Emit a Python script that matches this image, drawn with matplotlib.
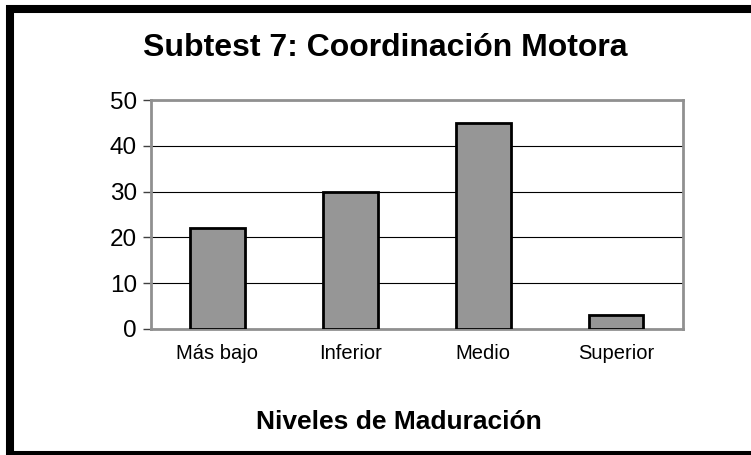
import matplotlib
matplotlib.use("Agg")
import matplotlib.pyplot as plt
from matplotlib.patches import Rectangle

categories = ["Más bajo", "Inferior", "Medio", "Superior"]
values = [22, 30, 45, 3]
yticks = [0, 10, 20, 30, 40, 50]

plt.rcParams['font.family'] = ['Liberation Sans', 'DejaVu Sans']

fig = plt.figure(figsize=(7.51, 4.55), dpi=100)
ax = fig.add_axes([0.201, 0.277, 0.708, 0.503])

x = range(len(categories))
ax.bar(x, values, width=0.41, color="#969696", edgecolor="black", linewidth=2, zorder=3)
ax.set_xlim(-0.5, len(categories) - 0.5)
ax.set_ylim(0, 50)
ax.set_yticks(yticks)
ax.set_yticklabels([str(v) for v in yticks], fontsize=17.5)
ax.set_xticks(list(x))
ax.set_xticklabels(categories, fontsize=14.5)
ax.tick_params(axis='x', length=0, pad=11)
ax.tick_params(axis='y', length=6, color="#404040", width=1.0, pad=4)
ax.grid(axis='y', color='black', linewidth=0.8, zorder=0)
for s in ax.spines.values():
    s.set_color("#909090")
    s.set_linewidth(2)
ax.set_axisbelow(True)

fig.text(0.513, 0.895, "Subtest 7: Coordinación Motora", ha='center', va='center',
         fontsize=23, fontweight='bold')
fig.text(0.531, 0.072, "Niveles de Maduración", ha='center', va='center',
         fontsize=19, fontweight='bold')

fig.patches.append(Rectangle((10 / 751, 0.0), 1.0, 0.9802, transform=fig.transFigure,
                             fill=False, edgecolor='black', linewidth=5.8, clip_on=False))

fig.savefig("out.png", dpi=100)
